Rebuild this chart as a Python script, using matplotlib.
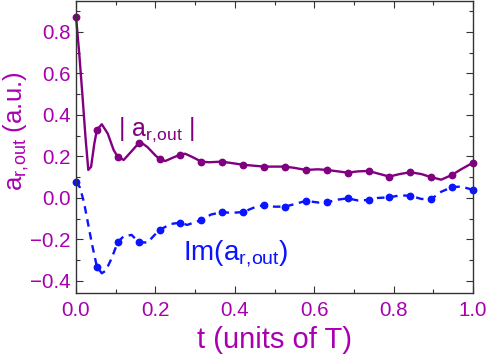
import matplotlib
matplotlib.use("Agg")
import matplotlib.pyplot as plt
from matplotlib.ticker import MultipleLocator

plt.rcParams['font.family'] = ['Liberation Sans', 'DejaVu Sans']
plt.rcParams['mathtext.fontset'] = 'custom'
plt.rcParams['mathtext.rm'] = 'Liberation Sans'
plt.rcParams['mathtext.it'] = 'Liberation Sans'

# sampled points (t = i/19)
t_pts = [i / 19 for i in range(20)]
abs_pts = [0.874, 0.328, 0.199, 0.264, 0.188, 0.209, 0.175, 0.175, 0.160, 0.151,
           0.151, 0.135, 0.135, 0.122, 0.130, 0.103, 0.124, 0.103, 0.111, 0.170]
im_pts = [0.079, -0.331, -0.213, -0.213, -0.154, -0.119, -0.106, -0.068, -0.068, -0.034,
          -0.042, -0.014, -0.021, -0.002, -0.010, 0.003, 0.011, -0.005, 0.052, 0.039]

# continuous curves
t_abs = [0.0, 0.008, 0.016, 0.024, 0.031, 0.038, 0.046, 0.0526, 0.065, 0.08, 0.095, 0.105,
         0.12, 0.14, 0.158, 0.165, 0.18, 0.2, 0.21, 0.225, 0.245, 0.263, 0.275, 0.29,
         0.316, 0.335, 0.368, 0.385, 0.421, 0.45, 0.474, 0.526, 0.55, 0.579, 0.61, 0.632,
         0.66, 0.684, 0.71, 0.737, 0.76, 0.789, 0.815, 0.842, 0.87, 0.895, 0.92, 0.947,
         0.97, 1.0]
v_abs = [0.874, 0.70, 0.50, 0.29, 0.135, 0.15, 0.26, 0.328, 0.355, 0.31, 0.23, 0.199,
         0.183, 0.225, 0.264, 0.266, 0.245, 0.205, 0.188, 0.178, 0.195, 0.209, 0.213, 0.20,
         0.175, 0.172, 0.175, 0.170, 0.160, 0.155, 0.151, 0.151, 0.145, 0.135, 0.138, 0.135,
         0.128, 0.122, 0.128, 0.130, 0.118, 0.103, 0.115, 0.124, 0.115, 0.100, 0.088, 0.111,
         0.138, 0.170]

t_im = [0.0, 0.01, 0.02, 0.03, 0.04, 0.0526, 0.065, 0.075, 0.09, 0.105, 0.12, 0.14, 0.158,
        0.18, 0.21, 0.24, 0.263, 0.28, 0.316, 0.34, 0.368, 0.39, 0.421, 0.45, 0.474, 0.5,
        0.526, 0.55, 0.579, 0.61, 0.632, 0.66, 0.684, 0.71, 0.737, 0.76, 0.789, 0.815,
        0.842, 0.87, 0.895, 0.92, 0.947, 0.97, 1.0]
v_im = [0.079, 0.05, -0.02, -0.12, -0.22, -0.331, -0.363, -0.35, -0.29, -0.213, -0.185,
        -0.178, -0.213, -0.215, -0.154, -0.125, -0.119, -0.13, -0.106, -0.08, -0.068, -0.072,
        -0.068, -0.045, -0.034, -0.042, -0.042, -0.030, -0.014, -0.022, -0.021, -0.008,
        -0.002, -0.012, -0.010, 0.0, 0.003, 0.012, 0.011, -0.005, -0.005, 0.030, 0.052,
        0.055, 0.039]

purple = '#800080'
blue = '#0a14ff'
tickc = '#a800b0'

fig = plt.figure(figsize=(4.87, 3.62), dpi=100)
ax = fig.add_axes([76 / 487, 1 - 293 / 362, (473 - 76) / 487, (293 - 1) / 362])

ax.plot(t_abs, v_abs, color=purple, lw=1.7, solid_capstyle='round', clip_on=False)
ax.plot(t_pts, abs_pts, 'o', color=purple, ms=4.6, clip_on=False)
ax.plot(t_im, v_im, color=blue, lw=1.7, dashes=(3.2, 2.4), clip_on=False)
ax.plot(t_pts, im_pts, 'o', color=blue, ms=4.6, clip_on=False)

ax.set_xlim(0, 1.0)
ax.set_ylim(-0.458, 0.949)
ax.xaxis.set_major_locator(MultipleLocator(0.2))
ax.xaxis.set_minor_locator(MultipleLocator(0.1))
ax.yaxis.set_major_locator(MultipleLocator(0.2))
ax.yaxis.set_minor_locator(MultipleLocator(0.1))
ax.tick_params(which='both', direction='in', top=True, right=True, width=0.8,
               colors='#333333', labelcolor=tickc, labelsize=14.8)
ax.tick_params(which='major', length=5)
ax.tick_params(which='minor', length=3)
ax.tick_params(axis='x', pad=6)
ax.tick_params(axis='y', pad=4)
ax.xaxis.set_major_formatter(plt.FuncFormatter(lambda v, p: f'{v:.1f}'))
ax.yaxis.set_major_formatter(plt.FuncFormatter(lambda v, p: f'{v:.1f}'.replace('-', '\u2212')))
for s in ax.spines.values():
    s.set_color('#333333')
    s.set_linewidth(1)

fig.text(0.5 * (76 + 473) / 487, 1 - 340 / 362, 't (units of T)', color=tickc,
         fontsize=21, ha='center', va='center')
fig.text(16 / 487, 1 - 131 / 362, r'$\mathregular{a_{r,\!out}}$ (a.u.)', color=tickc,
         fontsize=18.5, rotation=90, ha='center', va='center')

ax.text(0.107, 0.33, r'| $\mathregular{a_{r,\!out}}$ |', color=purple, fontsize=18,
        ha='left', va='center')
ax.text(0.269, -0.268, r'Im($\mathregular{a_{r,\!out}}$)', color=blue, fontsize=20,
        ha='left', va='center')

fig.savefig('out.png', dpi=100)
